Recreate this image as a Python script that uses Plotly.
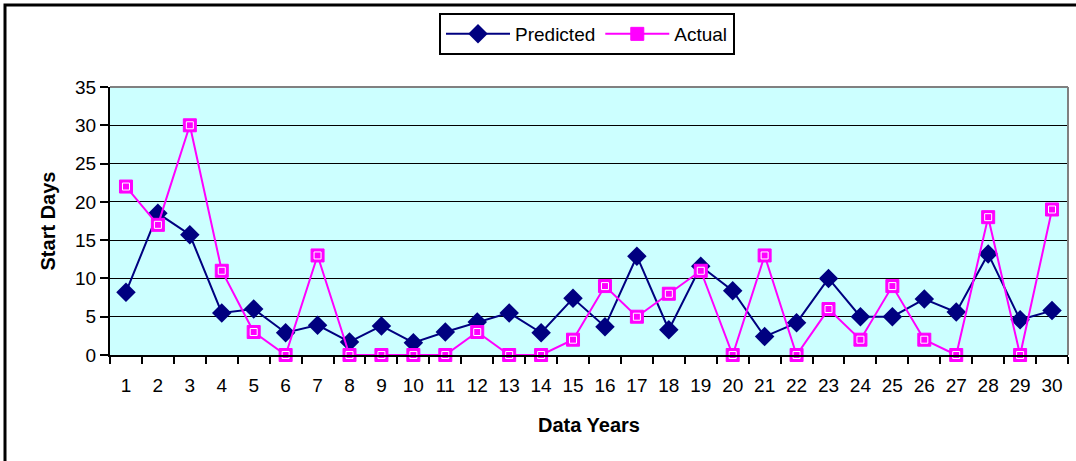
import plotly.graph_objects as go

# data
years = [str(i) for i in range(1, 31)]
predicted = [8.2, 18.5, 15.7, 5.5, 6.0, 2.9, 3.9, 1.7, 3.8, 1.6,
             3.0, 4.3, 5.5, 2.9, 7.4, 3.7, 12.9, 3.3, 11.6, 8.4,
             2.4, 4.2, 10.0, 5.0, 5.0, 7.3, 5.6, 13.2, 4.6, 5.8]
actual = [22, 17, 30, 11, 3, 0, 13, 0, 0, 0,
          0, 3, 0, 0, 2, 9, 5, 8, 11, 0,
          13, 0, 6, 2, 9, 2, 0, 18, 0, 19]

W, H = 1076, 461
ml, mr, mt, mb = 110, 8, 87, 106
pw = W - ml - mr
ph = H - mt - mb

fig = go.Figure()

fig.add_trace(go.Scatter(
    x=years, y=predicted, mode='lines+markers', name='Predicted',
    line=dict(color='#000080', width=2), cliponaxis=False,
    marker=dict(symbol='diamond', size=15, color='#000080')
))
fig.add_trace(go.Scatter(
    x=years, y=actual, mode='lines+markers', name='Actual',
    line=dict(color='#FF00FF', width=2), cliponaxis=False,
    marker=dict(symbol='square', size=13, color='#FF00FF', line=dict(color='#FF00FF', width=1))
))
# small white highlight inside the squares
fig.add_trace(go.Scatter(
    x=years, y=actual, mode='markers', showlegend=False, hoverinfo='skip', cliponaxis=False,
    marker=dict(symbol='square-open', size=7, color='white', line=dict(color='white', width=1))
))

# outer chart border
fig.add_shape(type='rect', xref='paper', yref='paper',
              x0=(5 - ml) / pw, x1=(W + 20 - ml) / pw,
              y0=-(mb + 20) / ph, y1=1 + (mt - 5) / ph,
              line=dict(color='black', width=3), layer='below')

# top and right edges of the plot area in gray
fig.add_shape(type='line', xref='paper', yref='paper', x0=0, x1=1, y0=1, y1=1,
              line=dict(color='#808080', width=2))
fig.add_shape(type='line', xref='paper', yref='paper', x0=1, x1=1, y0=0, y1=1,
              line=dict(color='#808080', width=2))

font = 'Liberation Sans, Arial, sans-serif'

fig.update_layout(
    width=W, height=H,
    margin=dict(l=ml, r=mr, t=mt, b=mb),
    paper_bgcolor='white',
    plot_bgcolor='#CCFFFF',
    font=dict(family=font, size=19, color='black'),
    showlegend=True,
    legend=dict(
        orientation='h', x=(439 - ml) / pw, y=1 + (mt - 13) / ph,
        xanchor='left', yanchor='top',
        bgcolor='white', bordercolor='black', borderwidth=2,
        font=dict(family=font, size=19),
        itemwidth=64, tracegroupgap=0
    ),
    xaxis=dict(
        type='category', tickson='boundaries', ticks='outside', ticklen=7,
        tickwidth=2, tickcolor='black', ticklabelstandoff=12,
        showline=True, linecolor='black', linewidth=2,
        showgrid=False, range=[-0.5, 29.5],
        title=dict(text='<b>Data Years</b>', font=dict(family=font, size=20), standoff=23),
        tickfont=dict(family=font, size=19)
    ),
    yaxis=dict(
        range=[0, 35], tickvals=[0, 5, 10, 15, 20, 25, 30, 35],
        ticks='outside', ticklen=8, tickwidth=2, tickcolor='black',
        showline=True, linecolor='black', linewidth=2,
        showgrid=True, gridcolor='black', gridwidth=1, zeroline=False,
        title=dict(text='<b>Start Days</b>', font=dict(family=font, size=20), standoff=14),
        tickfont=dict(family=font, size=19)
    )
)

fig.write_html("out.html", config={'displayModeBar': False},
               post_script="document.body.style.margin='0';")
